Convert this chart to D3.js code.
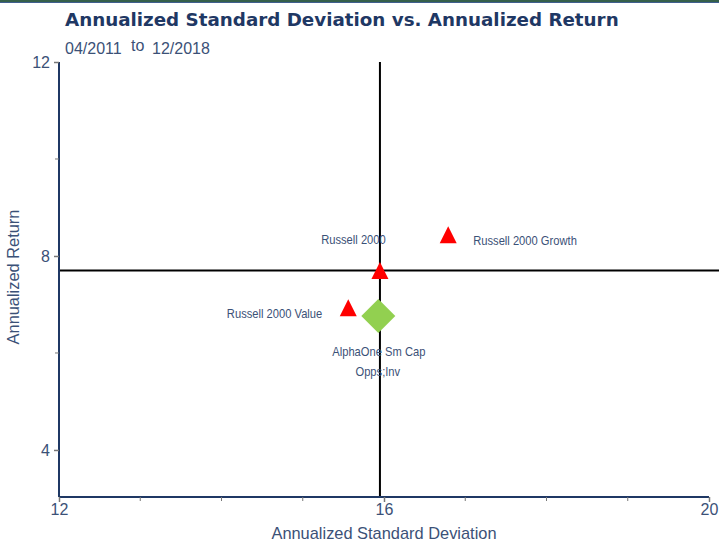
<!DOCTYPE html>
<html><head><meta charset="utf-8">
<script src="https://cdn.jsdelivr.net/npm/d3@7"></script>
<style>
body{margin:0;background:#fff;}
svg{display:block;}
</style></head>
<body>
<svg id="chart" width="719" height="541"></svg>
<script>
const names = ["Russell 2000", "Russell 2000 Growth", "Russell 2000 Value", "AlphaOne Sm Cap Opps;Inv"];
const stdDev = [15.95, 16.79, 15.56, 15.93];
const annReturn = [7.70, 8.44, 6.93, 6.76];
const shapes = ["triangle", "triangle", "triangle", "diamond"];
const xTicks = [12, 16, 20];
const xMinor = [13, 14, 15, 17, 18, 19];
const yTicks = [4, 8, 12];
const yMinor = [6, 10];

const svg = d3.select("#chart");
const navy = "#1f3864";
const labelColor = "#3b5177";
const sans = "'Liberation Sans', Arial, sans-serif";

const x = d3.scaleLinear().domain([12, 20]).range([59, 709]);
const y = d3.scaleLinear().domain([3.03, 12]).range([497, 62]);

// top border
svg.append("rect").attr("x",0).attr("y",0).attr("width",719).attr("height",2).attr("fill","#35604a");
svg.append("rect").attr("x",0).attr("y",2).attr("width",719).attr("height",1).attr("fill","#3f5f8f");

// title
svg.append("text").attr("x",65).attr("y",26).attr("font-family","'DejaVu Sans', Verdana, sans-serif")
  .attr("font-weight","bold").attr("font-size",18.3).attr("fill",navy)
  .text("Annualized Standard Deviation vs. Annualized Return");
const sub = svg.append("text").attr("y",54).attr("font-family",sans)
  .attr("font-size",16).attr("fill",labelColor);
sub.append("tspan").attr("x",65).text("04/2011");
sub.append("tspan").attr("x",131).attr("dy",-3).text("to");
sub.append("tspan").attr("x",152).attr("dy",3).text("12/2018");

// crosshair at Russell 2000
const ref = 0;
svg.append("line").attr("x1",x(stdDev[ref])).attr("x2",x(stdDev[ref])).attr("y1",62).attr("y2",497)
  .attr("stroke","#000").attr("stroke-width",2);
svg.append("line").attr("x1",x.range()[0]).attr("x2",719).attr("y1",y(annReturn[ref])).attr("y2",y(annReturn[ref]))
  .attr("stroke","#000").attr("stroke-width",2);

// axes
const xAxis = d3.axisBottom(x).tickValues(xTicks).tickSize(5).tickFormat(d3.format("d"));
const gx = svg.append("g").attr("transform","translate(0,497)").call(xAxis);
svg.append("g").selectAll("line").data(xMinor).join("line")
  .attr("x1",d=>x(d)).attr("x2",d=>x(d)).attr("y1",497).attr("y2",501).attr("stroke","#777").attr("stroke-width",1);
const yAxis = d3.axisLeft(y).tickValues(yTicks).tickSize(5).tickFormat(d3.format("d"));
const gy = svg.append("g").attr("transform","translate(59,0)").call(yAxis);
svg.append("g").selectAll("line").data(yMinor).join("line")
  .attr("x1",55).attr("x2",59).attr("y1",d=>y(d)).attr("y2",d=>y(d)).attr("stroke","#777").attr("stroke-width",1);

[gx, gy].forEach(g=>{
  g.select(".domain").attr("stroke",navy).attr("stroke-width",2);
  g.selectAll(".tick line").attr("stroke","#777").attr("stroke-width",1.5);
  g.selectAll(".tick text").attr("font-family",sans).attr("font-size",16).attr("fill",labelColor);
});
gx.select(".domain").attr("d","M59,0H709");
gy.select(".domain").attr("d","M0,62V497");
gx.selectAll(".tick text").attr("y",6).attr("dy","0.75em");
gy.selectAll(".tick text").attr("x",-9);

// axis titles
svg.append("text").attr("x",384).attr("y",539).attr("text-anchor","middle")
  .attr("font-family",sans).attr("font-size",16.4).attr("fill",labelColor)
  .text("Annualized Standard Deviation");
svg.append("text").attr("transform","translate(19,277) rotate(-90)").attr("text-anchor","middle")
  .attr("font-family",sans).attr("font-size",16.4).attr("fill",labelColor)
  .text("Annualized Return");

// markers
const data = names.map((n,i)=>({name:n, sd:stdDev[i], ret:annReturn[i], shape:shapes[i]}));
svg.append("g").selectAll("path").data(data).join("path")
  .attr("transform",d=>`translate(${x(d.sd)},${y(d.ret)})`)
  .attr("d",d=> d.shape==="diamond" ? "M0,-17L17,0L0,17L-17,0Z" : "M0,-8.5L8.5,8.5L-8.5,8.5Z")
  .attr("fill",d=> d.shape==="diamond" ? "#92d050" : "#ff0000");

// labels (condensed look via horizontal scaling)
const lab = svg.append("g").attr("font-family",sans).attr("font-size",13).attr("fill",labelColor);
function addLabel(px, py, anchor, txt){
  lab.append("text").attr("transform",`translate(${px},${py}) scale(0.86,1)`)
    .attr("text-anchor",anchor).text(txt);
}
addLabel(x(stdDev[0])-26.5, y(annReturn[0])-27, "middle", names[0]);
addLabel(x(stdDev[1])+25, y(annReturn[1])+10, "start", names[1]);
addLabel(x(stdDev[2])-26, y(annReturn[2])+10, "end", names[2]);
addLabel(x(stdDev[3])+0.5, y(annReturn[3])+40, "middle", "AlphaOne Sm Cap");
addLabel(x(stdDev[3])-0.5, y(annReturn[3])+60, "middle", "Opps;Inv");
</script>
</body></html>
